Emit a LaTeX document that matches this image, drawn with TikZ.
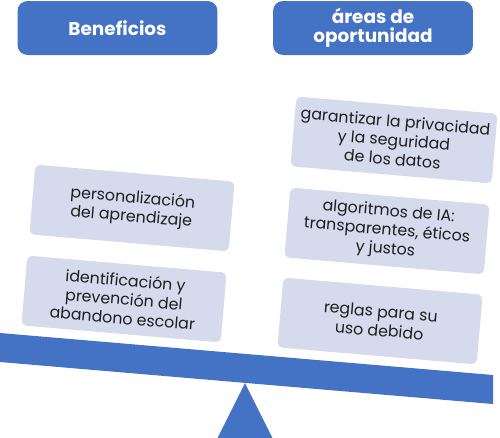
\documentclass[tikz,border=0pt]{standalone}
\usepackage{fontspec}
\setmainfont{Poppins}
\usetikzlibrary{calc}
\definecolor{barblue}{HTML}{4472C4}
\definecolor{cardfill}{HTML}{D5DAEC}
\definecolor{cardtext}{HTML}{1E1E1E}
\tikzset{
  hdrblk/.style={fill=barblue,rounded corners=0.2cm,minimum width=4cm,minimum height=1.08cm,align=center,text=white,font=\fontsize{10.5}{11}\selectfont\bfseries},
  cardblk/.style={fill=cardfill,rounded corners=0.1cm,minimum width=4cm,minimum height=1.4cm,align=center,text=cardtext,font=\fontsize{9}{10.8}\selectfont,rotate=-4.9},
  beam/.style={fill=barblue,draw=none}
}

\begin{document}
\begin{tikzpicture}[x=0.02cm,y=-0.02cm]
  \useasboundingbox (0,0) rectangle (500,437);

  % headers
  \node[hdrblk] (benef) at (117.5,28) {Beneficios};
  \node[hdrblk] (areas) at (373,28) {áreas de\\oportunidad};

  % cards, tilted with the beam
  \node[cardblk] (pers) at (132,208) {personalización\\del aprendizaje};
  \node[cardblk] (aband) at (124,299) {identificación y\\prevención del\\abandono escolar};
  \node[cardblk] (priv) at (394,140) {garantizar la privacidad\\y la seguridad\\de los datos};
  \node[cardblk] (algo) at (387,231) {algoritmos de IA:\\transparentes, éticos\\y justos};
  \node[cardblk] (regla) at (380,321) {reglas para su\\uso debido};

  % seesaw
  \begin{scope}
    \clip (0,0) rectangle (500,437);
    \fill[beam] (245,383) -- (210,453) -- (280,453) -- cycle;
    \fill[beam] (0,333) -- (493,375) -- (493,404) -- (0,362) -- cycle;
  \end{scope}
\end{tikzpicture}
\end{document}
